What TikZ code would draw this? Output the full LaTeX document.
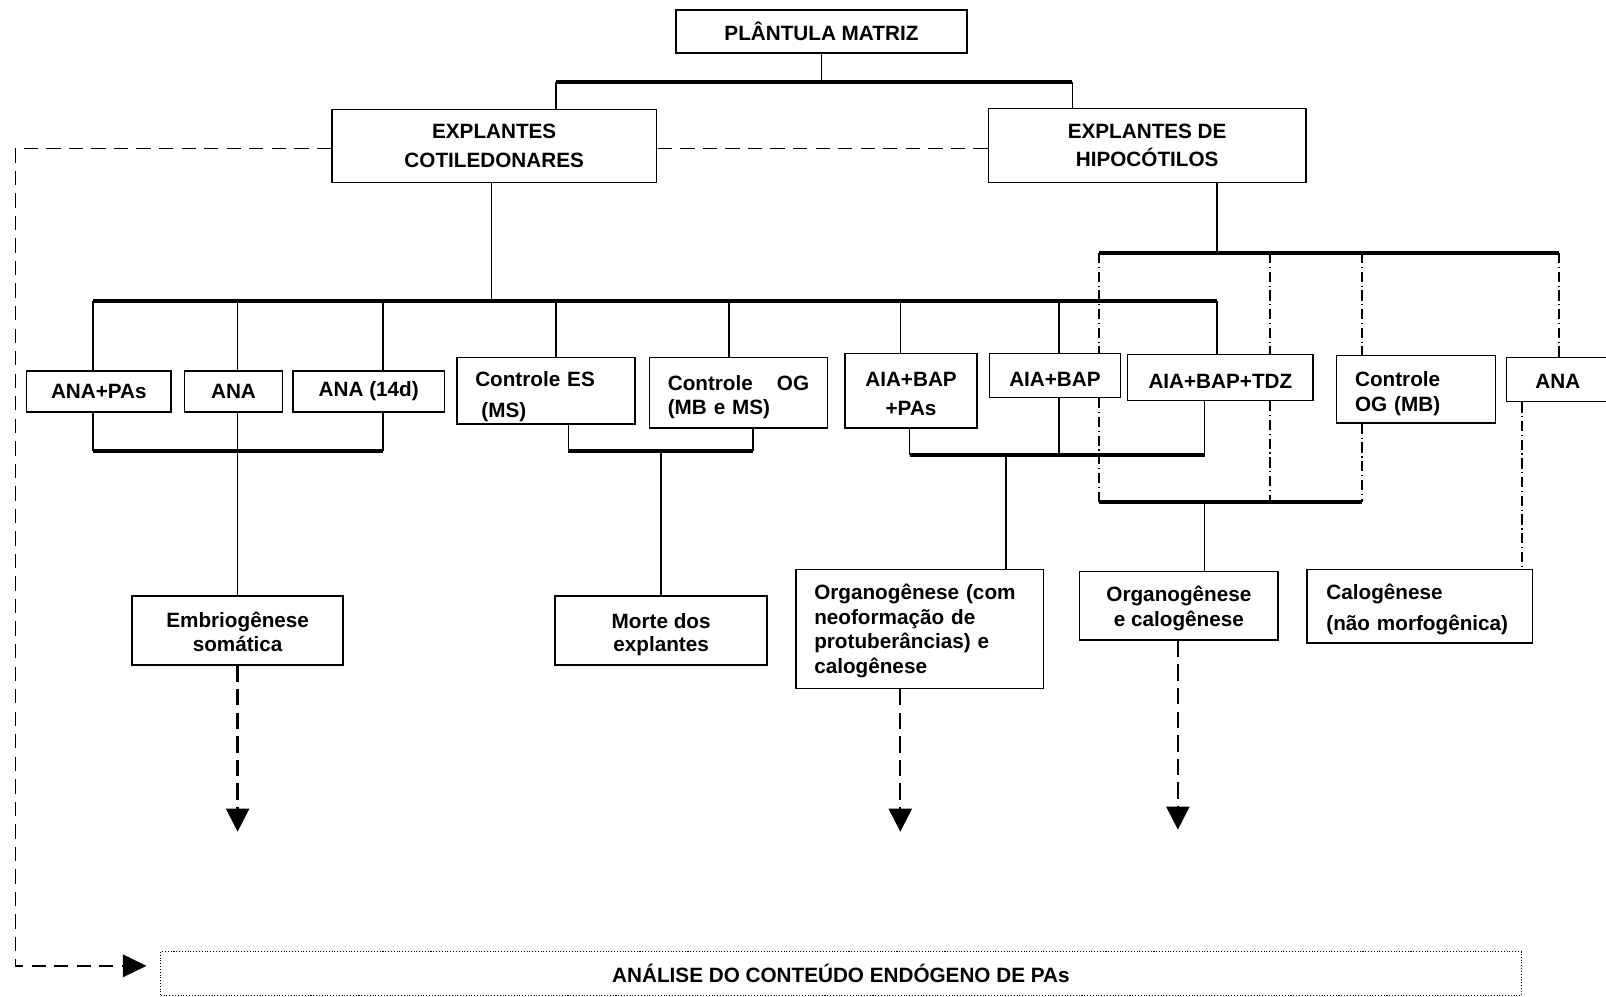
\documentclass[tikz,border=0pt]{standalone}
\usepackage{fontspec}
\setmainfont{Liberation Sans}
\usetikzlibrary{arrows.meta}

\tikzset{
  caixa/.style={draw, fill=white, line width=0.3mm, inner sep=0pt, align=center,
    font=\fontsize{11.5}{15}\selectfont\bfseries},
  esp/.style={font=\fontsize{11.5}{#1}\selectfont\bfseries},
  desce/.style={text height=#1},
  liga/.style={line width=0.3mm},
  barra/.style={line width=0.8mm},
  traco/.style={line width=0.3mm, dash pattern=on 2mm off 0.7mm on 0.25mm off 0.7mm},
  tracejado/.style={line width=0.3mm, dash pattern=on 2.8mm off 1.6mm},
  seta/.style={line width=0.45mm, dash pattern=on 3.2mm off 1.4mm, -{Triangle[length=4.5mm, width=4.5mm]}},
}

\begin{document}
\begin{tikzpicture}[x=0.2mm, y=-0.2mm]
\useasboundingbox (0,0) rectangle (1568,973);
% caixas
\node[caixa, minimum width=56.8mm, minimum height=8.4mm] (pm) at (802,31) {PLÂNTULA MATRIZ};
\node[caixa, esp=15.9, minimum width=63.4mm, minimum height=14.2mm] (cot) at (482.5,142.5) {EXPLANTES\\COTILEDONARES};
\node[caixa, esp=15.9, minimum width=62mm, minimum height=14.4mm] (hip) at (1120,142) {EXPLANTES DE\\HIPOCÓTILOS};
\node[caixa, minimum width=28.2mm, minimum height=8mm] (a1) at (96.5,382) {ANA+PAs};
\node[caixa, minimum width=19.2mm, minimum height=8mm] (a2) at (228,382) {ANA};
\node[caixa, minimum width=29.6mm, minimum height=8mm] (a3) at (360,382) {ANA (14d)};
\node[caixa, esp=17.1, desce=15.2pt, align=left, text width=27.6mm, inner xsep=3.6mm, minimum height=13mm] (ces) at (533,381.5) {Controle ES\\\hspace*{1.2mm}(MS)};
\node[caixa, esp=13.7, desce=13pt, align=left, text width=27.6mm, inner xsep=3.6mm, minimum height=13.8mm] (cog) at (721,383.5) {Controle\hfill OG\\(MB e MS)};
\node[caixa, esp=15.9, desce=27.7pt, minimum width=25.8mm, minimum height=14.6mm] (ab1) at (889.5,381.5) {AIA+BAP\\+PAs};
\node[caixa, desce=12.8pt, minimum width=25.6mm, minimum height=8.6mm] (ab2) at (1030,366.5) {AIA+BAP};
\node[caixa, desce=11.8pt, minimum width=36.2mm, minimum height=9mm] (ab3) at (1191.5,368.5) {AIA+BAP+TDZ};
\node[caixa, esp=13.7, desce=13pt, align=left, text width=23.8mm, inner xsep=3.6mm, minimum height=13.2mm] (cmb) at (1382.5,380) {Controle\\OG (MB)};
\node[caixa, desce=10.5pt, minimum width=20mm, minimum height=8.6mm] (ana2) at (1521,370.5) {ANA};
\node[caixa, esp=13.1, desce=23.4pt, minimum width=41.2mm, minimum height=13.4mm] (emb) at (232,615.5) {Embriogênese\\somática};
\node[caixa, esp=13.1, desce=26.1pt, minimum width=41.4mm, minimum height=13.4mm] (mor) at (645.5,615.5) {Morte dos\\explantes};
\node[caixa, esp=13.8, desce=10.9pt, align=left, text width=41.2mm, inner xsep=3.6mm, minimum height=23.2mm] (org1) at (898,614) {Organogênese (com\\neoformação de\\protuberâncias) e\\calogênese};
\node[caixa, esp=13.7, desce=25.1pt, minimum width=38.8mm, minimum height=13.4mm] (org2) at (1151,591.5) {Organogênese\\e calogênese};
\node[caixa, esp=17.1, desce=11.8pt, align=left, text width=36.4mm, inner xsep=3.8mm, minimum height=14.4mm] (cal) at (1386,592) {Calogênese\\(não morfogênica)};
\node[caixa, line width=0.2mm, densely dotted, minimum width=265.6mm, minimum height=8.6mm] (anl) at (821,950.5) {ANÁLISE DO CONTEÚDO ENDÓGENO DE PAs};
% planta matriz
\coordinate (t1) at (543,80);
\coordinate (t2) at (1047,80);
\draw[liga] (pm) -- (pm |- t1);
\draw[barra] (t1) -- (t2);
\draw[liga] (t1) -- (t1 |- cot.north);
\draw[liga] (t2) -- (t2 |- hip.north);
% cotiledonares
\draw[liga] (cot.south -| 480,0) -- (480,294);
\draw[barra] (91,294) -- (1188,294);
\foreach \n/\x in {a1/91, a2/232, a3/374, ces/543, cog/712, ab1/879, ab2/1034, ab3/1188}
  \draw[liga] (\x,294) -- (\n.north -| \x,0);
\draw[liga] (a1.south -| 91,0) -- (91,440);
\draw[liga] (a3.south -| 374,0) -- (374,440);
\draw[barra] (91,440) -- (374,440);
\draw[liga] (a2.south -| emb.north) -- (emb.north);
\draw[liga] (ces.south -| 555,0) -- (555,440);
\draw[liga] (cog.south -| 735,0) -- (735,440);
\draw[barra] (555,440) -- (735,440);
\draw[liga] (mor.north |- 645,440) -- (mor.north);
\draw[liga] (ab1.south -| 888,0) -- (888,444);
\draw[liga] (ab2.south -| 1034,0) -- (1034,444);
\draw[liga] (ab3.south -| 1176,0) -- (1176,444);
\draw[barra] (888,444) -- (1176,444);
\draw[liga] (982,444) -- (org1.north -| 982,0);
% hipocotilos
\draw[liga] (hip.south -| 1188,0) -- (1188,247);
\draw[barra] (1073,247) -- (1522,247);
\draw[traco] (1073,247) -- (ab2.north -| 1073,0);
\draw[traco] (ab2.south -| 1073,0) -- (1073,490);
\draw[traco] (1240,247) -- (ab3.north -| 1240,0);
\draw[traco] (ab3.south -| 1240,0) -- (1240,490);
\draw[traco] (1330,247) -- (cmb.north -| 1330,0);
\draw[traco] (cmb.south -| 1330,0) -- (1330,490);
\draw[traco] (1522,247) -- (ana2.north -| 1522,0);
\draw[traco] (ana2.south -| 1486,0) -- (cal.north -| 1486,0);
\draw[barra] (1073,490) -- (1330,490);
\draw[liga] (1176,490) -- (org2.north -| 1176,0);
% setas tracejadas
\coordinate (f1) at (232,812);
\coordinate (f2) at (879,812);
\coordinate (f3) at (1150,810);
\coordinate (canto) at (15,145);
\coordinate (f4) at (143,943);
\draw[seta] (emb.south -| f1) -- (f1);
\draw[seta] (org1.south -| f2) -- (f2);
\draw[seta] (org2.south -| f3) -- (f3);
\draw[tracejado] (hip.west |- canto) -- (cot.east |- canto);
\draw[tracejado, -{Triangle[length=4.6mm, width=4.4mm]}] (cot.west |- canto) -- (canto) |- (f4);
\end{tikzpicture}
\end{document}
